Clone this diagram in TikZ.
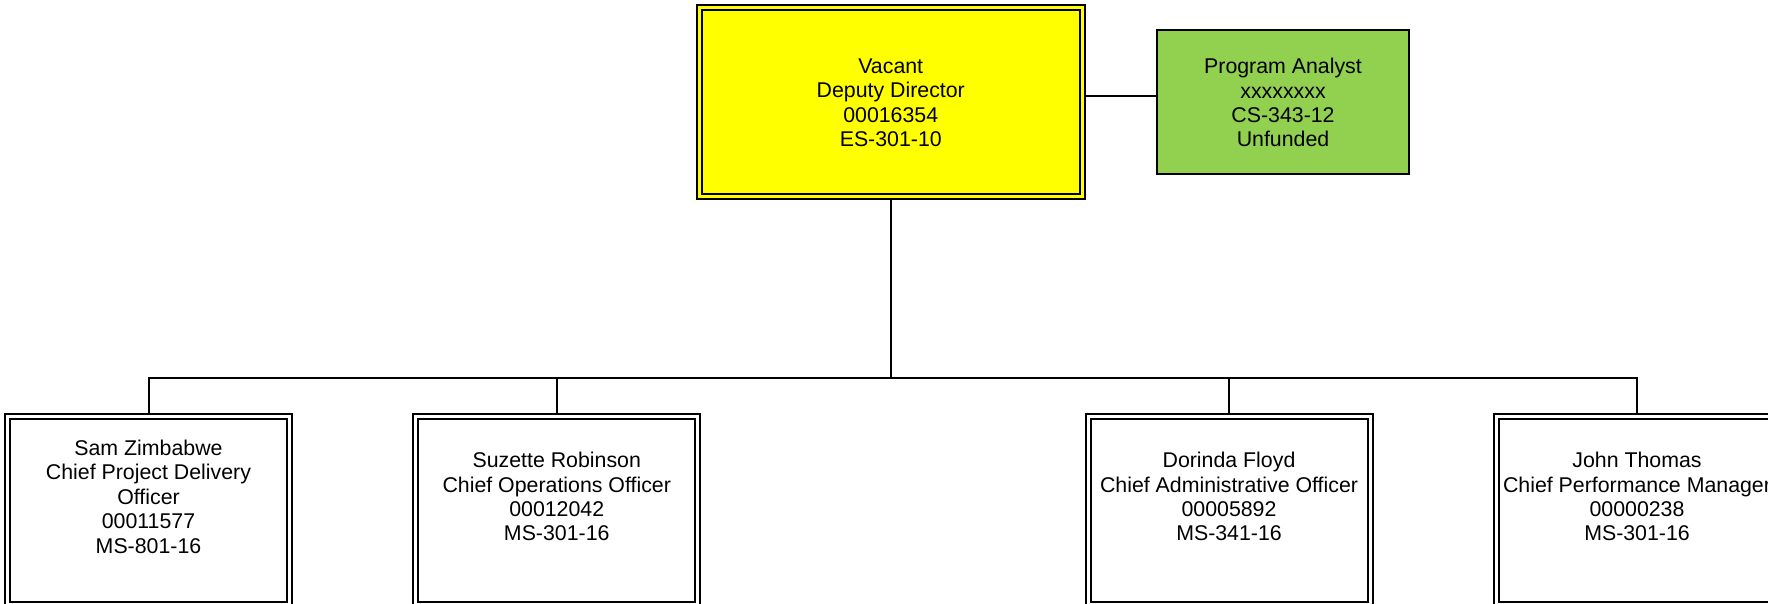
\documentclass[tikz,border=0pt]{standalone}
\usepackage{fontspec}
\setmainfont{Liberation Sans}
\definecolor{pagreen}{RGB}{146,208,80}
\definecolor{vyellow}{RGB}{255,255,0}
\begin{document}
\begin{tikzpicture}[x=1pt,y=-1pt,
  conn/.style={line width=2pt},
  dbox/.style={draw=black, line width=2pt, double=white, double distance=3pt,
    fill=white, inner sep=0pt, outer sep=3.5pt,
    minimum width=282pt, minimum height=188pt},
  txt/.style={align=center, font=\fontsize{21.33}{24.4}\selectfont, inner sep=0pt}]
\useasboundingbox (0,0) rectangle (1768,603);
\clip (0,0) rectangle (1768,603);
% top boxes
\node[dbox, double=vyellow, fill=vyellow, minimum width=382.5pt, minimum height=188.5pt,
  txt] (dd) at (890.75,101.75) {};
\node[txt] (ddt) at ([yshift=-1pt]dd.center) {Vacant\\Deputy Director\\00016354\\ES-301-10};
\node[draw=black, line width=2pt, fill=pagreen, minimum width=252pt, minimum height=144pt,
  outer sep=1pt, txt] (pa) at (1283,101.6) {};
\node[txt] (pat) at ([yshift=-1pt]pa.center) {Program Analyst\\xxxxxxxx\\CS-343-12\\Unfunded};
% bottom boxes
\node[dbox] (b1) at (148.5,510) {};
\node[dbox] (b2) at (556.75,510) {};
\node[dbox] (b3) at (1229,510) {};
\node[dbox] (b4) at (1637,510) {};
\node[txt] (t1) at ([yshift=13.4pt]b1.center) {Sam Zimbabwe\\Chief Project Delivery\\Officer\\00011577\\MS-801-16};
\node[txt] (t2) at ([yshift=13.4pt]b2.center) {Suzette Robinson\\Chief Operations Officer\\00012042\\MS-301-16};
\node[txt] (t3) at ([yshift=13.4pt]b3.center) {Dorinda Floyd\\Chief Administrative Officer\\00005892\\MS-341-16};
\node[txt] (t4) at ([yshift=13.4pt]b4.center) {John Thomas\\Chief Performance Manager\\00000238\\MS-301-16};
% connectors
\coordinate (lk) at (0,95.7);
\coordinate (bar) at (0,378);
\draw[conn] (dd.east |- lk) -- (pa.west |- lk);
\draw[conn] (dd.south) -- (dd.south |- bar);
\draw[conn] (b1.north) -- (b1.north |- bar) -- (b4.north |- bar) -- (b4.north);
\draw[conn] (b2.north) -- (b2.north |- bar);
\draw[conn] (b3.north) -- (b3.north |- bar);
\end{tikzpicture}
\end{document}
